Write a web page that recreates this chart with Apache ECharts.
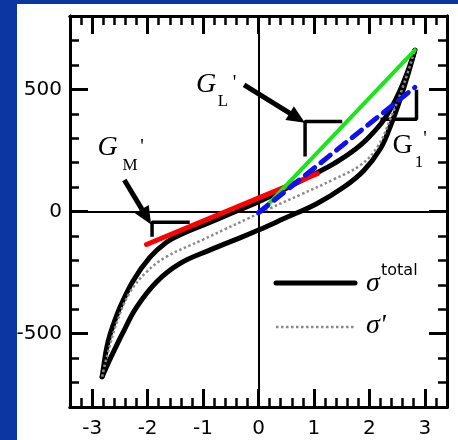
<!DOCTYPE html>
<html><head><meta charset="utf-8">
<script src="https://cdn.jsdelivr.net/npm/echarts@6/dist/echarts.min.js"></script>
<style>
html,body{margin:0;padding:0;width:458px;height:440px;overflow:hidden;background:#0a37a2;}
#paper{position:absolute;left:17px;top:4px;right:0;bottom:0;background:#fff;}
#chart{position:absolute;left:0;top:0;width:458px;height:440px;}
</style></head><body>
<div id="paper"></div><div id="chart"></div>
<script>
// ---- axis ranges and tick values ----
const X_MIN = -3.4, X_MAX = 3.4, Y_MIN = -800, Y_MAX = 800;
const xMajorTicks = [-3, -2, -1, 0, 1, 2, 3];
const xMinorTicks = [-3.2, -2.8, -2.6, -2.4, -2.2, -1.8, -1.6, -1.4, -1.2, -0.8, -0.6, -0.4, -0.2,
                     0.2, 0.4, 0.6, 0.8, 1.2, 1.4, 1.6, 1.8, 2.2, 2.4, 2.6, 2.8, 3.2];
const yMajorTicks = [-500, 0, 500];
const yMinorTicks = [-700, -600, -400, -300, -200, -100, 100, 200, 300, 400, 600, 700];

// ---- sigma total: upper and lower branches of the loop ----
const totalUpperX = [-2.82, -2.78, -2.74, -2.68, -2.5, -2.26, -1.96, -1.66, -1.42, -1.0, -0.5, 0, 0.5, 1.05, 1.36, 1.66, 1.96, 2.26, 2.5, 2.68, 2.82];
const totalUpperY = [-676, -615, -560, -505, -393, -283, -188, -126, -96, -56, -8, 40, 95, 158, 196, 240, 297, 375, 470, 566, 660];
const totalLowerX = [-2.82, -2.7, -2.57, -2.45, -2.21, -1.84, -1.42, -0.88, -0.28, 0, 0.45, 1.05, 1.54, 1.9, 2.2, 2.38, 2.56, 2.71, 2.82];
const totalLowerY = [-676, -615, -553, -498, -395, -288, -213, -158, -103, -76, -30, 32, 100, 168, 258, 350, 463, 572, 660];

// ---- sigma prime ----
const primeX = [-2.82, -2.72, -2.54, -2.33, -2.03, -1.66, -1.0, -0.6, -0.2, 0.2, 0.75, 1.36, 1.84, 2.14, 2.38, 2.62, 2.82];
const primeY = [-676, -581, -445, -335, -250, -185, -115, -72, -30, 12, 68, 132, 190, 262, 380, 520, 660];

// ---- tangent / secant lines ----
const gmX = [-2.02, 1.06], gmY = [-135, 155];   // G_M' (red)
const glX = [0.07, 2.82],  glY = [5, 660];      // G_L' (green)
const g1X = [0.0, 2.82],   g1Y = [-5, 508];     // G_1' (blue dashed)

// ---- slope brackets ----
const bracketMX = [-1.92, -1.92, -1.24], bracketMY = [-103, -44, -44];
const bracketLX = [0.84, 0.84, 1.51],    bracketLY = [225, 368, 368];
const bracket1X = [2.2, 2.85, 2.85],     bracket1Y = [378, 378, 498];

// ---- arrows (tail -> head) ----
const arrowMX = [-2.42, -2.02], arrowMY = [129, -22];
const arrowLX = [-0.26, 0.70],  arrowLY = [518, 383];

function pairs(xs, ys) { return xs.map((x, i) => [x, ys[i]]); }

const NUMFONT = '"DejaVu Sans", sans-serif';
function xAx(pos, ticks, len, showLabel) {
  return {
    type: 'value', min: X_MIN, max: X_MAX, position: pos, offset: 0,
    axisLine: { show: true, onZero: false, lineStyle: { color: '#000', width: 3 } },
    axisTick: { show: true, inside: true, length: len, customValues: ticks,
                lineStyle: { color: '#000', width: len > 10 ? 3 : 2.5 } },
    axisLabel: { show: showLabel, customValues: ticks, margin: 12, color: '#000',
                 fontSize: 20, fontFamily: NUMFONT },
    splitLine: { show: false }
  };
}
function yAx(pos, ticks, len, showLabel) {
  return {
    type: 'value', min: Y_MIN, max: Y_MAX, position: pos, offset: 0,
    axisLine: { show: true, onZero: false, lineStyle: { color: '#000', width: 3 } },
    axisTick: { show: true, inside: true, length: len, customValues: ticks,
                lineStyle: { color: '#000', width: len > 10 ? 3 : 2.5 } },
    axisLabel: { show: showLabel, customValues: ticks, margin: 8, color: '#000',
                 fontSize: 20, fontFamily: NUMFONT },
    splitLine: { show: false }
  };
}
function curve(name, xs, ys, style, extra) {
  return Object.assign({
    type: 'line', name: name, data: pairs(xs, ys), showSymbol: false, symbol: 'none',
    silent: true, lineStyle: style, xAxisIndex: 0, yAxisIndex: 0
  }, extra || {});
}

const SERIF = '"Liberation Serif", "DejaVu Serif", serif';
function txt(x, y, s, font, align) {
  return { type: 'text', x: x, y: y, silent: true, z: 100,
           style: { text: s, font: font, fill: '#000', align: align || 'center', verticalAlign: 'middle' } };
}

const chart = echarts.init(document.getElementById('chart'));
chart.setOption({
  animation: false,
  backgroundColor: 'transparent',
  grid: { left: 70, right: 11, top: 16, bottom: 33, containLabel: false },
  xAxis: [
    xAx('bottom', xMajorTicks, 18, true),
    xAx('bottom', xMinorTicks, 9, false),
    xAx('top', xMajorTicks, 18, false),
    xAx('top', xMinorTicks, 9, false)
  ],
  yAxis: [
    yAx('left', yMajorTicks, 18, true),
    yAx('left', yMinorTicks, 9, false),
    yAx('right', yMajorTicks, 18, false),
    yAx('right', yMinorTicks, 9, false)
  ],
  series: [
    { type: 'line', data: [], z: 1, xAxisIndex: 0, yAxisIndex: 0,
      markLine: { silent: true, symbol: ['none', 'none'], label: { show: false }, animation: false,
                  lineStyle: { color: '#000', width: 2, type: 'solid' },
                  data: [{ xAxis: 0 }, { yAxis: 0 }] } },
    curve('total', totalUpperX, totalUpperY, { color: '#000', width: 5, cap: 'round', join: 'round' }, { smooth: 0.4, z: 3 }),
    curve('total', totalLowerX, totalLowerY, { color: '#000', width: 5, cap: 'round', join: 'round' }, { smooth: 0.4, z: 3 }),
    curve('prime', primeX, primeY, { color: '#8a8a8a', width: 2.5, type: [2.5, 2.5] }, { smooth: 0.4, z: 4 }),
    curve('GM', gmX, gmY, { color: '#ff0000', width: 5, cap: 'round' }, { z: 5 }),
    curve('GL', glX, glY, { color: '#19e619', width: 4, cap: 'round' }, { z: 6 }),
    curve('G1', g1X, g1Y, { color: '#1010ee', width: 5, type: [12, 8], cap: 'round' }, { z: 7 }),
    curve('bM', bracketMX, bracketMY, { color: '#000', width: 3.5 }, { z: 3 }),
    curve('bL', bracketLX, bracketLY, { color: '#000', width: 3.5 }, { z: 3 }),
    curve('b1', bracket1X, bracket1Y, { color: '#000', width: 3.5 }, { z: 3 }),
    { type: 'line', data: [], z: 8, xAxisIndex: 0, yAxisIndex: 0,
      markLine: { silent: true, symbol: ['none', 'triangle'], symbolSize: [16, 18], label: { show: false }, animation: false,
                  lineStyle: { color: '#000', width: 5, type: 'solid' },
                  data: [
                    [{ coord: [arrowMX[0], arrowMY[0]] }, { coord: [arrowMX[1], arrowMY[1]] }],
                    [{ coord: [arrowLX[0], arrowLY[0]] }, { coord: [arrowLX[1], arrowLY[1]] }]
                  ] } }
  ],
  graphic: [
    txt(107.5, 148, 'G', 'italic 28px ' + SERIF),
    txt(130, 166, 'M', '17px ' + SERIF),
    txt(142, 148, "'", '20px ' + SERIF),
    txt(206, 85, 'G', 'italic 28px ' + SERIF),
    txt(223, 102, 'L', '17px ' + SERIF),
    txt(234.5, 84, "'", '20px ' + SERIF),
    txt(402.5, 146, 'G', '28px ' + SERIF),
    txt(419, 163, '1', '17px ' + SERIF),
    txt(425, 140, "'", '20px ' + SERIF),
    { type: 'line', silent: true, z: 100, shape: { x1: 276, y1: 283, x2: 355, y2: 283 },
      style: { stroke: '#000', lineWidth: 5, lineCap: 'round' } },
    { type: 'line', silent: true, z: 100, shape: { x1: 276, y1: 327, x2: 355, y2: 327 },
      style: { stroke: '#8a8a8a', lineWidth: 2.5, lineDash: [2.5, 2.5] } },
    txt(366, 284, '\u03c3', 'italic 28px ' + SERIF, 'left'),
    txt(381, 271, 'total', '16px ' + NUMFONT, 'left'),
    txt(366, 326, "\u03c3'", 'italic 28px ' + SERIF, 'left')
  ]
});
</script></body></html>
